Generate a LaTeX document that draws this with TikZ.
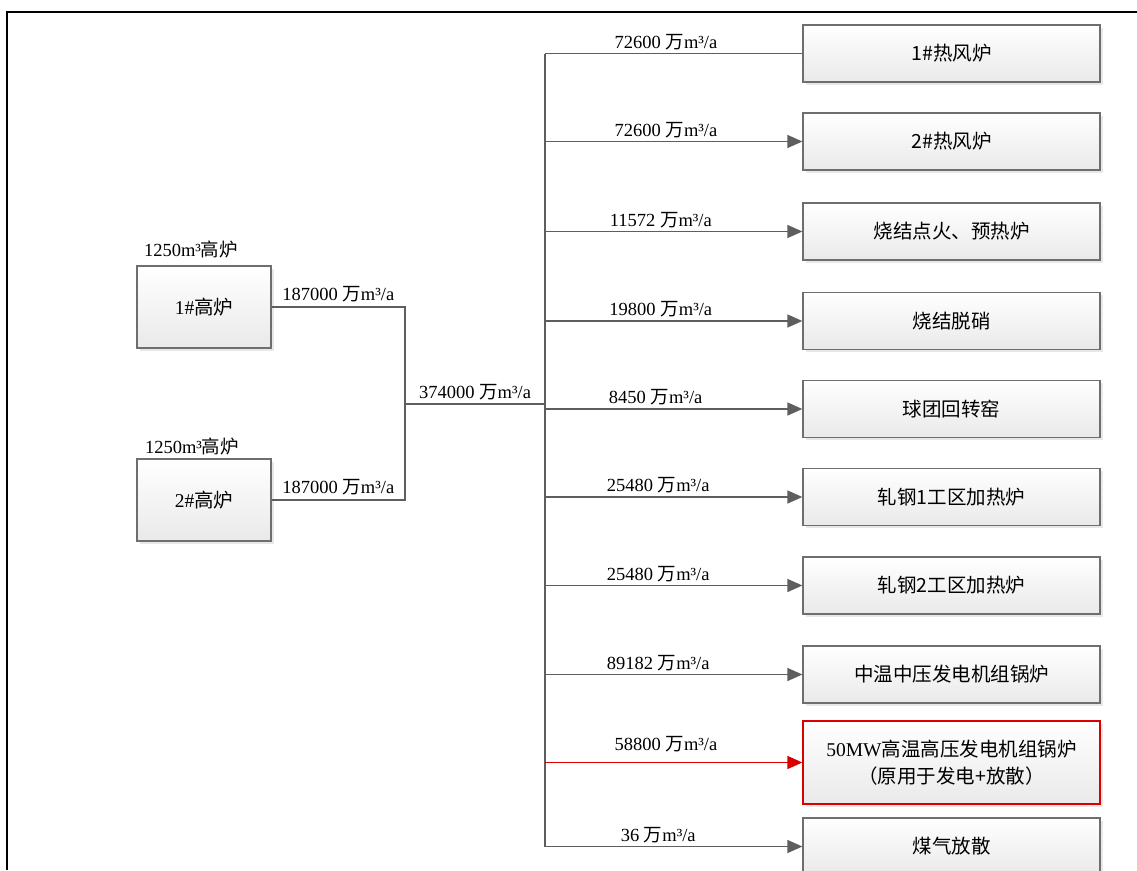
\documentclass[tikz,border=0pt]{standalone}
\usepackage{fontspec}
\setmainfont{Liberation Serif}
\newfontfamily\cjk{Noto Sans CJK SC}
\usetikzlibrary{arrows.meta,shadows}
\newcommand\zh[1]{{\cjk #1}}
\definecolor{linegray}{HTML}{5E5E5E}
\definecolor{boxedge}{HTML}{6E6E6E}
\tikzset{
  stbox/.style={draw=boxedge, line width=1.3pt, top color=white, bottom color=gray!17,
    inner sep=0pt, align=center, font=\fontsize{19.5}{27}\selectfont,
    drop shadow={opacity=0.18, shadow xshift=2.5pt, shadow yshift=-2.5pt}},
  rbox/.style={stbox, minimum width=297pt, minimum height=57pt},
  lbox/.style={stbox, minimum width=134pt, minimum height=82pt},
  conn/.style={draw=linegray, line width=1.5pt},
  arr/.style={conn, -{Triangle[length=15pt,width=13pt]}},
  redarr/.style={draw=red!85!black, line width=1.5pt, -{Triangle[length=15pt,width=13pt]}},
  lbl/.style={font=\fontsize{18.5}{20}\selectfont, inner sep=2pt},
}
\begin{document}
\begin{tikzpicture}[x=1pt,y=-1pt]
\useasboundingbox (0,0) rectangle (1137,870);
\fill[white] (0,0) rectangle (1137,870);
% frame
\draw[black, line width=2.2pt] (7,870) -- (7,12) -- (1137,12);

% left furnaces
\node[lbox] (A) at (204,307) {1\#\zh{高炉}};
\node[lbox] (B) at (204,500) {2\#\zh{高炉}};
\node[lbl] (Alab) at (191,249) {1250m³\zh{高炉}};
\node[lbl] (Blab) at (192,446) {1250m³\zh{高炉}};

% right consumers
\node[rbox] (b1) at (951.5,53.5) {\cjk 1\#热风炉};
\node[rbox] (b2) at (951.5,141.5) {\cjk 2\#热风炉};
\node[rbox] (b3) at (951.5,231.5) {\cjk 烧结点火、预热炉};
\node[rbox] (b4) at (951.5,321) {\cjk 烧结脱硝};
\node[rbox] (b5) at (951.5,409) {\cjk 球团回转窑};
\node[rbox] (b6) at (951.5,497) {\cjk 轧钢1工区加热炉};
\node[rbox] (b7) at (951.5,585.5) {\cjk 轧钢2工区加热炉};
\node[rbox] (b8) at (951.5,674.5) {\cjk 中温中压发电机组锅炉};
\node[rbox, draw=red!85!black, minimum height=83pt] (b9) at (951.5,762.5)
  {50MW\zh{高温高压发电机组锅炉}\\\zh{（原用于发电+放散）}};
\node[rbox] (b10) at (951.5,846.5) {\cjk 煤气放散};

% junctions
\coordinate (j) at (405,404);
\coordinate (tr) at (545,404);

\draw[conn] (A.east) -| (j) node[lbl, pos=0.25, above=2pt] (lA) {187000 \zh{万}m³/a};
\draw[conn] (B.east) -| (j) node[lbl, pos=0.25, above=2pt] (lB) {187000 \zh{万}m³/a};
\draw[conn] (j) -- (tr) node[lbl, midway, above=1pt] (lT) {374000 \zh{万}m³/a};

% trunk
\draw[conn] (tr |- b1.west) -- (tr |- b10.west);

% branches
\draw[conn] (tr |- b1.west) -- (b1.west) node[lbl, pos=0.47, above=1pt] {72600 \zh{万}m³/a};
\draw[arr] (tr |- b2.west) -- (b2.west) node[lbl, pos=0.47, above=1pt] {72600 \zh{万}m³/a};
\draw[arr] (tr |- b3.west) -- (b3.west) node[lbl, pos=0.45, above=1pt] {11572 \zh{万}m³/a};
\draw[arr] (tr |- b4.west) -- (b4.west) node[lbl, pos=0.45, above=1pt] {19800 \zh{万}m³/a};
\draw[arr] (tr |- b5.west) -- (b5.west) node[lbl, pos=0.43, above=1pt] {8450 \zh{万}m³/a};
\draw[arr] (tr |- b6.west) -- (b6.west) node[lbl, pos=0.44, above=1pt] {25480 \zh{万}m³/a};
\draw[arr] (tr |- b7.west) -- (b7.west) node[lbl, pos=0.44, above=1pt] {25480 \zh{万}m³/a};
\draw[arr] (tr |- b8.west) -- (b8.west) node[lbl, pos=0.44, above=1pt] {89182 \zh{万}m³/a};
\draw[redarr] (tr |- b9.west) -- (b9.west) node[lbl, pos=0.47, above=8pt] {58800 \zh{万}m³/a};
\draw[arr] (tr |- b10.west) -- (b10.west) node[lbl, pos=0.44, above=1pt] {36 \zh{万}m³/a};
\end{tikzpicture}
\end{document}
